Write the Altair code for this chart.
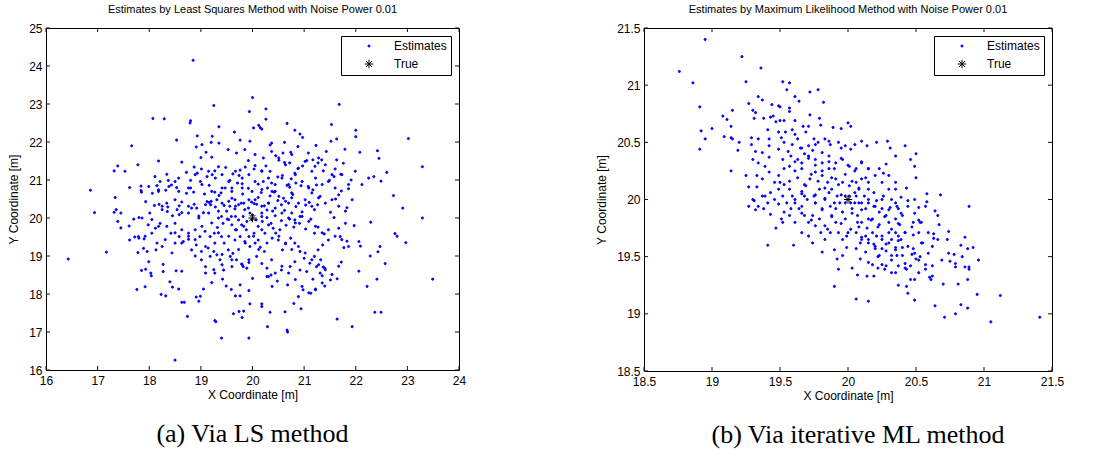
import altair as alt
import pandas as pd

# ---------------- data ----------------
ls_x = [18.85,20.0,19.25,21.68,19.94,20.26,18.07,18.29,18.8,18.79,20.26,20.67,19.35,20.12,20.15,20.18,20.02,21.53,19.65,20.82,22.0,22.0,20.92,20.97,18.53,18.93,19.22,23.02,21.63,21.52,19.95,19.76,17.66,20.37,20.34,20.62,22.08,22.42,22.45,21.23,21.79,
        17.39,17.32,17.53,17.78,18.18,23.29,22.6,22.35,22.49,16.86,17.62,17.84,17.84,17.85,17.34,16.94,17.32,17.36,17.39,17.45,17.45,17.61,17.7,17.8,
        22.73,22.91,23.29,21.97,22.29,22.76,22.8,22.97,22.06,22.09,22.28,22.43,22.47,22.57,23.49,22.06,22.22,22.41,22.37,22.49,21.64,21.93,
        16.43,17.17,17.72,17.79,17.8,17.9,17.78,17.89,17.85,17.93,18.03,18.04,17.92,17.76,18.23,18.32,18.27,18.27,18.4,18.52,18.63,18.45,18.57,18.63,18.68,18.74,18.5,
        19.4,19.93,19.27,19.29,19.63,19.74,19.83,19.8,19.95,20.18,20.18,20.34,20.29,20.63,20.68,20.67,20.8,20.94,18.96,18.99,18.91,19.05,19.21,19.42,19.49,19.67,19.76,19.59,19.76,19.93,20.0,20.28,20.38,20.48,20.68,20.89,20.98,21.13,21.22,21.4,21.51,21.64,21.35,21.17,21.37,21.72,
        21.77,21.83,21.7,21.8,21.67,21.58,21.51,21.61,21.72,21.83,21.86,21.91,21.71,21.58,21.49,21.37,21.27,21.17,21.05,20.97,20.88,20.82,20.72,20.62,20.51,20.45,20.26,20.34,20.18,20.05,20.03,19.92,19.86,19.76,19.74,19.62,19.56,19.48,19.34,19.27,19.22,19.12,19.01,18.93,18.99,18.8,18.8,18.86,18.72,18.53,18.37,18.34,18.32,18.18,18.15,18.06,
        18.1,18.19,18.25,18.34,18.35,18.45,18.5,18.58,18.63,18.63,18.76,18.82,18.87,18.96,19.05,19.12,19.16,19.2,19.19,19.28,19.35,19.45,19.6,19.66,19.73,19.81,19.92,19.93,19.98,20.03,20.08,20.11,20.17,20.23,20.28,20.34,20.42,20.49,20.56,20.62,20.67,20.72,20.78,20.84,20.96,21.03,21.1,21.2,21.26,21.31,21.24,21.17,21.08,20.94,20.84,20.75,20.58,20.49,20.37,20.29,20.21,20.11,19.8,19.71,19.6,19.47,19.39,19.27,19.16,19.07,
        20.07,20.11,20.19,20.28,20.36,20.44,20.56,20.65,20.72,20.8,20.91,21.03,21.13,21.2,21.27,21.39,21.47,21.36,21.27,21.2,21.32,21.4,21.11,21.0,20.92,20.82,20.74,20.64,20.58,20.5,20.45,20.38,20.28,20.23,20.15,20.08,20.11,20.03,19.93,19.88,19.79,19.69,19.6,19.51,19.43,19.32,19.26,19.18,19.08,18.98,18.91,18.82,18.76,18.66,18.58,18.5,18.42,18.34,18.21,18.12,18.05,18.15,18.13,
        18.89,19.01,19.09,19.18,19.31,19.37,19.45,19.53,19.62,19.69,19.79,19.82,19.89,19.93,19.6,19.44,19.27,20.37,20.36,20.31,20.56,20.73,20.82,20.92,21.05,21.24,21.31,
        18.87,18.72,18.63,19.0,19.1,19.21,19.35,19.2,19.02,18.91,19.53,19.69,19.85,20.05,20.21,20.37,20.59,20.74,20.88,21.08,21.21,21.34,21.43,21.63,21.6,21.76,18.11,18.21,18.43,18.57,17.93,18.01,17.98,17.62,17.99,
        19.85,19.95,19.82,19.73,19.89,20.0,19.78,19.66,19.56,19.5,19.4,19.34,19.59,
        20.18,20.31,20.44,20.6,20.7,20.76,20.82,20.92,20.53,20.4,20.24,20.05,19.95,19.85,19.76,19.66,19.4,19.27,19.14,19.01,18.76,18.63,18.5]
ls_y = [24.15,23.17,22.96,22.99,22.8,22.87,22.62,22.61,22.56,22.5,22.6,22.49,22.4,22.44,22.38,22.34,22.37,22.46,22.26,22.31,22.31,22.14,22.21,22.12,22.05,22.16,22.15,22.09,22.08,22.02,22.02,22.05,21.9,21.97,21.92,21.99,21.73,21.77,21.57,21.91,21.81,
        21.37,21.24,21.23,21.4,21.5,21.35,21.2,21.09,20.97,20.73,20.8,20.84,20.72,20.68,20.54,20.14,20.15,20.22,19.91,20.13,19.74,19.79,19.97,20.01,
        20.59,20.26,20.0,19.8,19.89,19.59,19.52,19.35,19.38,19.26,19.0,19.11,19.25,18.8,18.39,18.6,18.2,18.39,17.52,17.52,17.34,17.14,
        18.92,19.1,19.5,19.51,19.47,19.45,19.09,19.2,18.62,18.65,18.55,18.48,18.19,18.12,17.99,17.95,18.78,18.59,18.32,18.61,18.6,18.18,18.13,17.78,17.78,17.41,16.26,
        16.84,16.84,17.3,17.27,17.48,17.54,17.55,17.38,17.74,17.74,17.67,17.52,17.14,17.53,17.0,17.05,17.75,17.61,17.81,17.94,17.92,18.13,18.3,18.39,18.21,17.95,17.95,18.12,18.24,18.09,18.41,18.46,18.2,18.34,18.24,17.93,18.11,18.02,18.13,18.21,18.37,18.4,18.48,18.39,18.71,18.84,
        19.22,19.39,19.51,19.86,19.73,20.01,20.15,20.5,20.71,20.27,20.77,21.0,21.15,21.09,20.99,21.24,21.45,21.53,21.51,21.37,21.3,21.18,21.45,21.46,21.52,21.64,21.37,21.23,21.24,21.38,21.29,21.51,21.34,21.26,21.12,21.16,20.99,21.33,21.35,21.24,21.14,21.09,21.29,21.18,20.96,20.99,20.79,20.68,20.65,20.8,20.99,21.15,20.73,20.74,20.85,20.65,
        20.33,20.36,20.22,20.39,20.17,20.06,20.48,20.32,20.42,20.14,20.13,20.26,20.36,20.05,20.14,20.43,20.41,20.44,20.35,20.29,20.59,20.33,20.52,20.24,20.35,20.63,20.78,20.48,20.42,20.38,20.36,20.54,20.67,20.32,20.21,20.58,20.68,20.46,20.35,20.2,20.86,20.81,20.62,20.3,20.16,20.34,20.41,20.22,20.35,20.57,20.87,20.74,20.83,20.85,20.92,21.03,21.12,21.08,20.92,20.79,20.96,20.89,20.9,20.92,20.79,20.79,20.66,20.68,20.86,20.63,
        19.95,19.78,19.91,20.01,19.86,20.06,19.93,19.81,19.97,19.76,19.86,19.71,19.97,19.6,19.76,19.58,19.42,19.29,19.16,18.99,18.9,18.68,18.81,18.94,19.12,19.34,19.47,19.32,19.16,19.42,19.6,19.47,19.34,19.12,19.23,18.99,19.42,19.6,19.51,19.69,19.82,19.69,19.82,19.97,19.86,19.75,19.6,19.51,19.65,19.51,19.29,19.16,19.44,19.38,19.51,19.34,19.6,19.78,19.86,19.73,19.6,19.34,19.16,
        19.0,18.9,18.72,18.99,19.03,18.9,19.34,19.16,19.07,18.9,18.79,18.72,18.68,18.83,18.72,18.63,18.55,18.9,18.5,18.46,18.63,18.72,18.85,18.63,18.59,18.72,18.55,
        21.34,21.2,21.47,21.59,21.73,21.6,21.97,21.99,21.93,21.87,21.8,21.71,21.8,21.67,21.58,21.75,21.71,21.73,21.88,21.71,21.36,21.53,21.75,21.53,21.29,21.44,21.09,20.96,20.87,21.05,20.43,20.13,19.82,19.42,18.85,
        20.22,20.13,20.04,19.95,19.91,20.08,20.39,20.48,20.31,20.18,20.04,20.18,20.04,
        20.13,20.39,20.26,20.52,20.39,20.13,19.95,20.04,19.69,19.73,19.6,19.34,19.25,19.38,19.51,19.42,19.51,19.34,19.21,19.12,19.6,19.69,19.86]

# denser core of the LS cloud
ls_x_core = [18.25,18.36,18.54,18.58,18.76,18.92,19.09,19.31,19.41,19.54,19.67,19.83,19.92,20.05,20.18,20.31,20.39,19.67,19.54,19.34,19.21,19.02,18.89,18.76,18.63,18.89,19.09,19.25,19.41,19.57,19.73,19.86,20.02,20.18,20.31,20.12,19.93,19.8,19.6,19.41,19.25,19.09,20.18,20.28,19.34,19.54,19.67,19.83,19.99,20.18,19.15,18.96,18.5,18.31,18.25,18.44,18.18,18.05,17.92,17.86,17.96,
             20.51,20.64,20.76,20.89,21.02,21.15,21.28,21.41,21.54,21.67,21.8,21.93,20.57,20.7,20.83,20.96,21.09,21.22,21.35,21.47,21.6,21.73,21.86,20.51,20.64,20.76,20.89,21.02,21.15,21.28,21.41,21.54,21.67,20.57,20.7,20.83,20.96,21.09,21.22,21.35,20.44,
             20.51,20.64,20.76,20.89,21.02,21.15,21.28,21.41,21.54,20.57,20.7,20.83,20.96,21.09,21.22,21.35,21.47,21.6,21.73,21.86,21.99,22.12,22.25,20.44,20.76,21.15,21.67,
             19.15,19.28,19.41,19.54,19.67,19.8,19.93,20.05,20.18,20.31,20.44,19.02,19.21,19.41,19.6,19.8,19.99,20.18,20.38,18.76,18.57,18.38,18.89,18.5,18.18,17.99]
ls_y_core = [20.31,20.29,20.22,20.09,20.31,20.26,20.35,20.48,20.39,20.44,20.31,20.39,20.26,20.48,20.31,20.39,20.18,20.04,19.96,20.0,19.87,19.78,19.69,19.52,19.34,19.43,19.25,19.12,19.04,18.99,19.17,19.34,19.52,19.69,19.82,19.17,18.9,18.77,18.9,18.77,18.64,18.55,18.8,18.68,19.61,19.52,19.69,19.78,19.96,20.04,20.13,20.0,19.61,19.43,19.25,19.08,19.78,19.96,19.52,20.0,19.12,
             20.57,20.44,20.53,20.39,20.48,20.31,20.53,20.39,20.48,20.31,20.18,20.48,20.13,20.0,19.87,20.04,19.91,19.78,19.61,19.69,19.52,19.43,19.25,19.52,19.34,19.17,19.25,19.08,18.9,18.77,18.64,18.51,18.73,18.73,18.55,18.38,18.2,18.03,18.11,18.29,18.55,
             21.58,21.4,21.67,21.31,21.49,21.23,21.58,21.4,21.14,21.05,20.88,21.14,20.96,20.79,21.05,20.88,20.96,20.79,21.14,20.88,21.23,20.88,21.05,20.7,20.66,20.66,20.61,
             21.23,21.05,21.14,20.96,21.23,21.05,21.14,20.96,21.23,21.05,20.88,20.88,20.7,20.79,20.7,20.79,20.7,20.75,20.7,20.79,20.7,20.83,21.14,20.96,20.7,20.83]

ml_x = [18.95,18.76,18.86,19.22,19.36,19.25,19.52,19.57,19.55,19.61,19.72,19.78,19.34,19.37,19.27,19.64,19.82,18.91,19.15,19.3,19.32,19.44,19.49,19.5,19.57,19.57,19.08,19.11,19.0,18.92,18.95,19.09,19.14,19.14,19.15,18.91,19.19,19.2,19.14,
        19.31,19.38,19.43,19.45,19.47,19.5,19.53,19.61,19.72,19.79,19.67,19.71,19.8,19.89,19.95,20.0,20.02,
        19.29,19.34,19.41,19.42,19.49,19.54,19.59,19.63,19.69,19.75,
        19.29,19.32,19.37,19.42,19.49,19.53,19.59,19.65,19.71,19.78,19.83,19.87,19.93,19.98,20.02,20.1,20.14,20.21,20.29,20.31,20.35,20.42,
        20.5,20.46,20.49,20.5,20.58,20.58,20.57,20.68,20.64,20.66,20.67,20.89,20.74,20.73,20.63,20.63,20.83,20.86,20.88,20.92,20.96,20.78,20.75,20.79,20.86,20.89,20.88,20.81,20.7,20.95,21.12,20.83,20.88,20.64,20.71,20.79,21.05,21.41,
        20.49,20.44,20.43,20.46,20.37,20.52,20.49,20.6,20.61,20.57,20.62,20.53,20.59,20.47,20.48,20.37,20.42,20.46,20.32,20.35,20.25,20.28,20.18,20.27,20.22,
        20.48,20.42,20.38,20.35,20.32,20.37,20.4,20.28,20.32,20.48,20.49,20.44,20.39,20.36,20.52,20.53,20.54,20.43,20.35,20.3,20.26,20.23,20.28,20.35,
        20.15,20.19,20.21,20.25,20.28,20.3,20.23,20.18,20.13,20.1,20.06,20.02,20.03,20.07,20.1,20.14,20.18,20.21,20.25,20.15,20.1,20.06,20.02,19.99,19.96,19.93,19.91,19.88,19.91,19.96,19.98,19.94,19.92,19.88,19.85,19.81,19.76,19.72,19.69,19.66,19.7,19.75,19.79,19.83,19.87,19.81,19.76,19.74,19.79,19.83,19.87,19.83,19.8,19.76,19.71,19.68,19.64,19.61,19.59,19.57,19.53,19.49,19.52,19.55,19.58,19.53,19.49,19.46,19.43,
        19.52,19.57,19.61,19.66,19.71,19.76,19.81,19.86,19.91,19.96,20.01,20.06,20.1,20.15,20.2,20.15,20.1,20.06,20.01,19.96,19.91,19.86,19.81,19.74,19.68,19.63,19.58,19.53,19.49,19.46,19.42,19.39,19.37,19.33,19.37,19.41,19.38,19.34,19.31,
        19.32,19.41,19.47,19.43,19.51,19.6,19.74,19.81,19.9,19.92,19.93,19.9,20.06,20.15,20.07,20.14,20.19,20.03,20.09,19.96,19.99,20.06,20.13,20.2,20.15,20.23,20.28,20.35,20.4,20.43,20.5,20.55,20.52,19.71,19.66,19.61,19.57,19.52,19.66,19.57,19.27,19.3,19.27,19.39,19.5,19.42,19.34,19.3,19.33,19.25,
        20.25,20.3,20.26,20.32,20.37,20.4,20.35,20.31,20.23,20.19,20.15,20.12,20.08,20.01,19.98,20.08,20.07,20.13,20.09,20.19,20.25,20.3,20.37,20.36,20.15]
ml_y = [21.4,21.12,21.02,21.25,21.15,21.03,21.03,21.02,20.96,20.9,20.94,20.96,20.9,20.87,20.84,20.86,20.85,20.81,20.78,20.78,20.76,20.83,20.82,20.81,20.8,20.77,20.73,20.7,20.62,20.6,20.53,20.55,20.64,20.54,20.53,20.44,20.43,20.5,20.25,
        20.71,20.71,20.72,20.73,20.68,20.69,20.69,20.69,20.74,20.71,20.64,20.64,20.65,20.63,20.62,20.67,20.64,
        20.54,20.53,20.61,20.53,20.59,20.59,20.61,20.53,20.59,20.53,
        20.48,20.42,20.41,20.47,20.44,20.5,20.48,20.45,20.47,20.5,20.53,20.48,20.5,20.47,20.44,20.51,20.47,20.5,20.51,20.45,20.38,20.47,
        20.4,20.35,20.29,20.19,20.05,19.98,19.94,20.04,19.9,19.86,19.78,19.94,19.72,19.65,19.7,19.66,19.6,19.67,19.57,19.58,19.47,19.52,19.46,19.41,19.41,19.41,19.3,19.26,19.26,19.17,19.16,19.08,19.05,19.07,18.97,19.0,18.93,18.97,
        19.12,19.18,19.24,19.3,19.25,19.36,19.3,19.32,19.3,19.43,19.42,19.5,19.53,19.52,19.57,19.42,19.4,19.42,19.36,19.36,19.43,19.42,19.43,19.39,19.4,
        19.69,19.71,19.78,19.71,19.65,19.64,19.58,19.55,19.51,19.8,19.88,19.99,20.02,19.94,19.93,19.8,19.8,20.1,20.15,20.21,20.23,20.27,20.31,20.09,
        20.09,20.06,19.99,19.92,19.86,19.8,19.78,19.83,19.92,19.97,20.03,19.97,19.92,19.86,19.8,19.75,19.71,19.68,19.65,19.62,19.67,19.71,19.74,19.68,19.65,19.71,19.8,19.86,19.92,19.89,19.83,19.97,20.03,20.09,20.15,20.21,20.24,20.18,20.12,20.05,20.0,20.03,20.09,20.0,19.94,19.92,19.97,19.86,19.83,19.77,19.71,19.65,19.71,19.77,19.8,19.86,19.92,19.97,20.03,20.09,20.13,20.09,20.03,19.97,19.92,19.89,19.96,20.0,20.06,
        20.35,20.29,20.25,20.32,20.38,20.35,20.32,20.27,20.32,20.35,20.29,20.27,20.32,20.27,20.21,20.15,20.18,20.15,20.12,20.15,20.18,20.38,20.41,20.43,20.4,20.35,20.38,20.27,20.21,20.15,20.24,20.29,20.18,20.11,20.03,19.97,19.92,19.94,19.99,
        19.91,19.6,19.75,19.87,19.83,19.6,19.62,19.54,19.56,19.48,19.39,19.24,19.13,19.11,19.34,19.33,19.33,19.4,19.48,19.51,19.58,19.57,19.54,19.57,19.45,19.51,19.61,19.58,19.51,19.39,19.48,19.62,19.71,19.68,19.71,19.8,19.86,19.8,19.94,20.16,19.94,20.0,20.11,20.03,20.15,20.37,20.32,20.35,20.21,20.21,
        20.15,20.09,20.03,20.0,19.92,19.86,19.83,19.93,19.89,19.94,19.97,20.03,20.09,20.03,19.97,19.97,19.8,19.68,19.62,19.61,19.57,19.71,19.68,19.51,19.83]

# denser core of the ML cloud
ml_x_core = [19.61,19.66,19.71,19.76,19.81,19.86,19.9,19.95,20.0,20.05,20.1,20.15,19.63,19.68,19.73,19.78,19.83,19.88,19.93,19.98,20.03,20.08,20.13,19.66,19.76,19.86,19.95,20.05,19.56,19.66,19.76,19.86,19.95,20.05,19.51,19.61,
             20.15,20.2,20.25,20.3,20.35,20.39,20.44,20.49,20.17,20.22,20.27,20.32,20.37,20.42,20.47,20.52,20.15,20.2,20.25,20.3,20.35,20.39,20.44,20.49,20.54,20.59,20.62,20.66,20.22,20.32,20.42,20.52,20.57,20.62,20.69,20.74,20.79,20.84,20.89,
             19.61,19.68,19.76,19.83,19.9,19.98,20.05,20.1,19.66,19.73,19.81,19.88,19.95,20.03,20.08,19.85,20.0,20.1]
ml_y_core = [20.33,20.27,20.36,20.3,20.25,20.33,20.27,20.36,20.3,20.25,20.33,20.27,20.19,20.13,20.22,20.16,20.1,20.19,20.13,20.22,20.16,20.1,20.19,20.07,20.04,20.06,20.04,20.06,20.42,20.45,20.48,20.51,20.45,20.48,20.54,20.57,
             20.0,19.94,20.0,19.91,19.97,19.88,19.94,20.0,19.82,19.76,19.85,19.74,19.79,19.71,19.76,19.82,19.65,19.59,19.68,19.62,19.56,19.65,19.59,19.53,19.62,19.71,19.59,19.65,19.5,19.47,19.44,19.47,19.39,19.33,19.47,19.53,19.44,19.5,19.39,
             20.0,20.03,19.97,20.01,19.97,20.03,19.97,19.91,19.88,19.82,19.91,19.85,19.79,19.88,19.76,19.74,19.71,19.65]

true_x = [20.0]
true_y = [20.0]
series_names = ["Estimates", "True"]

ls_xticks = [16, 17, 18, 19, 20, 21, 22, 23, 24]
ls_yticks = [16, 17, 18, 19, 20, 21, 22, 23, 24, 25]
ml_xticks = [18.5, 19, 19.5, 20, 20.5, 21, 21.5]
ml_yticks = [18.5, 19, 19.5, 20, 20.5, 21, 21.5]

ls_title = "Estimates by Least Squares Method with Noise Power 0.01"
ml_title = "Estimates by Maximum Likelihood Method with Noise Power 0.01"
ls_caption = "(a) Via LS method"
ml_caption = "(b) Via iterative ML method"

ASTERISK = "M-1,0L1,0M0,-1L0,1M-0.72,-0.72L0.72,0.72M-0.72,0.72L0.72,-0.72"
SANS = "Liberation Sans"
SERIF = "Liberation Serif"
TICK = 4


def panel(xs, ys, xticks, yticks, W, H, title, caption, cap_dx):
    n = min(len(xs), len(ys))
    df = pd.DataFrame({
        "x": list(xs[:n]) + true_x,
        "y": list(ys[:n]) + true_y,
        "s": ["Estimates"] * n + ["True"],
    })
    xscale = alt.Scale(domain=[xticks[0], xticks[-1]], nice=False, zero=False)
    yscale = alt.Scale(domain=[yticks[0], yticks[-1]], nice=False, zero=False)
    xaxis = alt.Axis(values=xticks, format="~g", title="X Coordinate [m]", ticks=False,
                     domain=False, grid=False, labelFlush=False, labelOverlap=False,
                     labelPadding=5, titlePadding=3)
    yaxis = alt.Axis(values=yticks, format="~g", title="Y Coordinate [m]", ticks=False,
                     domain=False, grid=False, labelFlush=False, labelOverlap=False,
                     labelPadding=4, titlePadding=8)
    leg = alt.Legend(title=None, orient="top-right", offset=8, strokeColor="black",
                     fillColor="white", padding=4, symbolOffset=18, labelOffset=19,
                     rowPadding=5, labelFont=SANS, labelFontSize=12, labelColor="black",
                     symbolStrokeWidth=1)
    dom = series_names
    pts = alt.Chart(df).mark_point(filled=True, strokeWidth=1, opacity=1).encode(
        x=alt.X("x:Q", scale=xscale, axis=xaxis),
        y=alt.Y("y:Q", scale=yscale, axis=yaxis),
        fill=alt.Fill("s:N", scale=alt.Scale(domain=dom, range=["#0000ff", "#000000"]), legend=leg),
        stroke=alt.Stroke("s:N", scale=alt.Scale(domain=dom, range=["#0000ff", "#000000"]), legend=leg),
        shape=alt.Shape("s:N", scale=alt.Scale(domain=dom, range=["circle", ASTERISK]), legend=leg),
        size=alt.Size("s:N", scale=alt.Scale(domain=dom, range=[4.5, 70]), legend=leg),
        order=alt.Order("s:N"),
    )
    xt = pd.DataFrame({"x": xticks})
    yt = pd.DataFrame({"y": yticks})
    xenc = alt.X("x:Q", scale=xscale, axis=xaxis)
    yenc = alt.Y("y:Q", scale=yscale, axis=yaxis)
    rule = dict(color="#111111", strokeWidth=1)
    t_top = alt.Chart(xt).mark_rule(**rule).encode(x=xenc, y=alt.value(0), y2=alt.value(TICK))
    t_bot = alt.Chart(xt).mark_rule(**rule).encode(x=xenc, y=alt.value(H), y2=alt.value(H - TICK))
    t_left = alt.Chart(yt).mark_rule(**rule).encode(y=yenc, x=alt.value(0), x2=alt.value(TICK))
    t_right = alt.Chart(yt).mark_rule(**rule).encode(y=yenc, x=alt.value(W), x2=alt.value(W - TICK))
    cap = alt.Chart(pd.DataFrame({"c": [caption]})).mark_text(
        font=SERIF, fontSize=26, color="black", align="center", baseline="middle"
    ).encode(text="c:N", x=alt.value(W / 2 + cap_dx), y=alt.value(H + 64))
    return alt.layer(t_top, t_bot, t_left, t_right, pts, cap).properties(
        width=W, height=H,
        title=alt.Title(title, font=SANS, fontSize=11, fontWeight="normal", color="black",
                        anchor="middle", offset=7),
    )


left = panel(ls_x + ls_x_core, ls_y + ls_y_core, ls_xticks, ls_yticks, 413, 342,
             ls_title, ls_caption, 0)
right = panel(ml_x + ml_x_core, ml_y + ml_y_core, ml_xticks, ml_yticks, 408, 343,
              ml_title, ml_caption, 10)

chart = (
    alt.hconcat(left, right, spacing=128)
    .resolve_scale(x="independent", y="independent", fill="independent", stroke="independent",
                   shape="independent", size="independent")
    .resolve_legend(fill="independent", stroke="independent", shape="independent", size="independent")
    .properties(padding={"left": 7, "top": 3, "right": 0, "bottom": 0}, background="white")
    .configure_view(stroke="black", strokeWidth=1)
    .configure_axis(labelFont=SANS, labelFontSize=12, labelColor="black",
                    titleFont=SANS, titleFontSize=12, titleFontWeight="normal", titleColor="black")
)

chart.save("out.html", embed_options={"renderer": "svg", "actions": False})
